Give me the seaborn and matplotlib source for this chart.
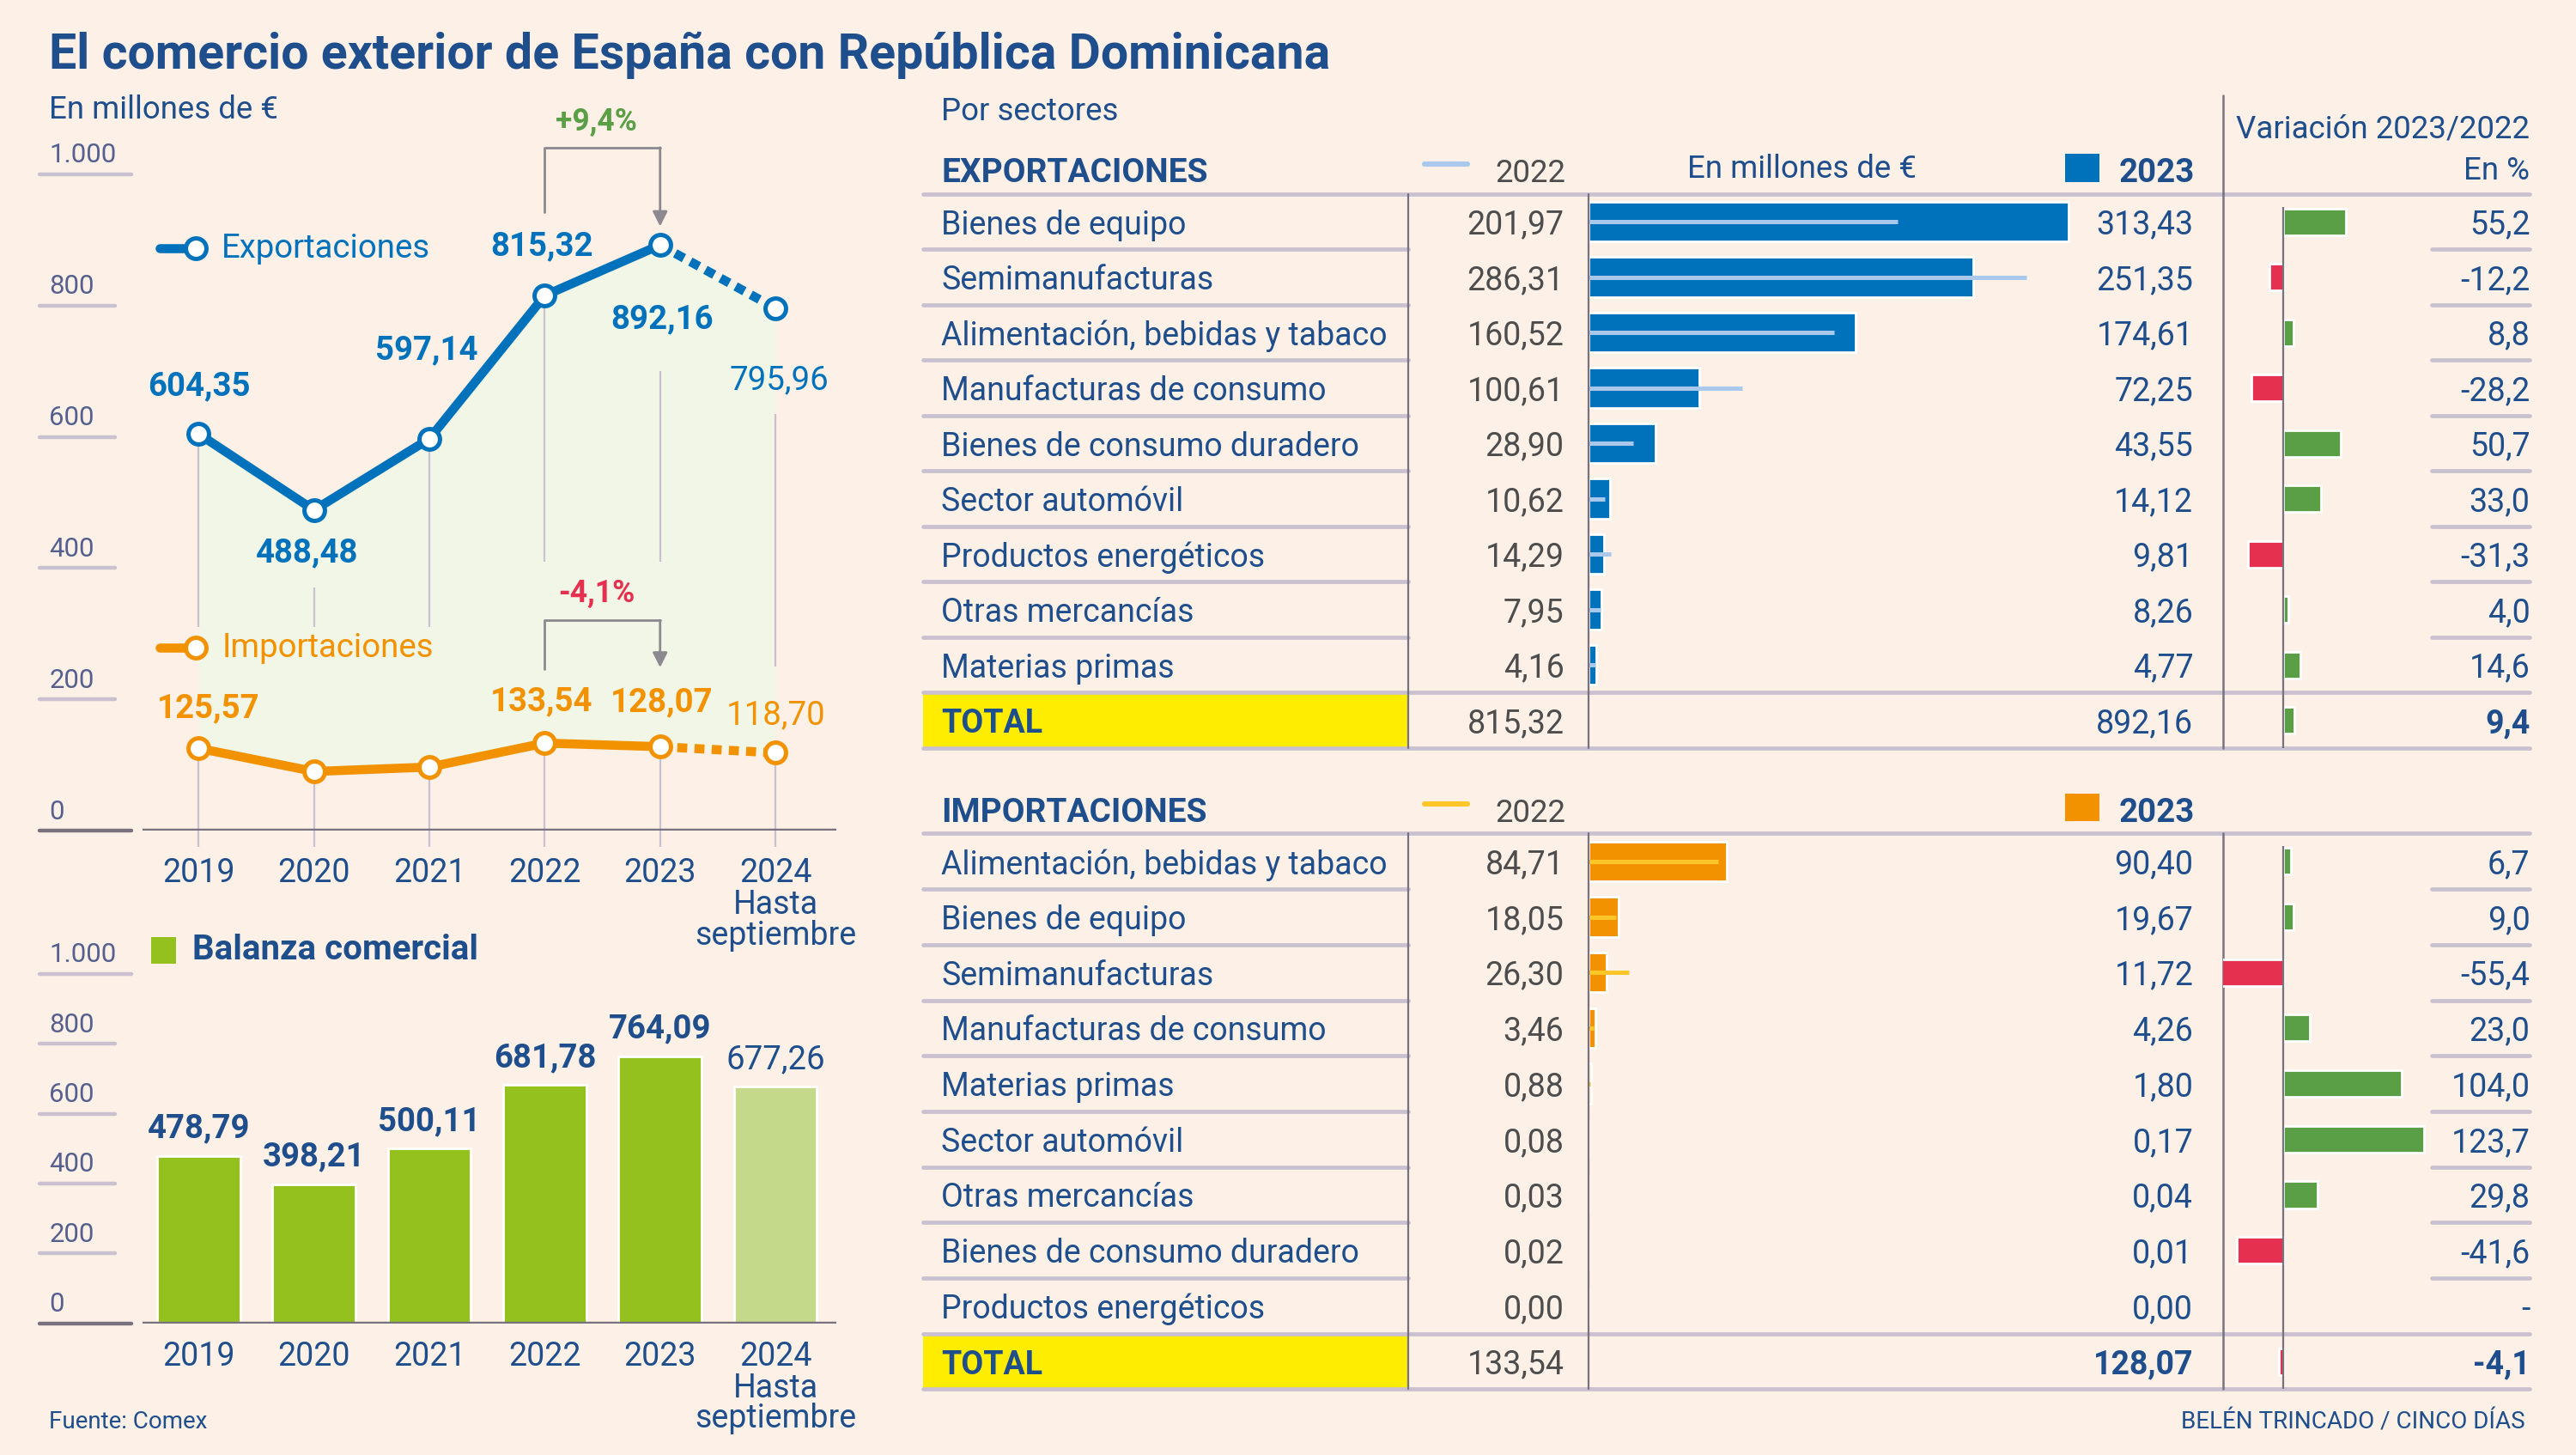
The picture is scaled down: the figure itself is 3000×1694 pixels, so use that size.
import matplotlib
matplotlib.use("Agg")
import numpy as np
import pandas as pd
import matplotlib.pyplot as plt
import seaborn as sns
from matplotlib.patches import Rectangle
from matplotlib.transforms import blended_transform_factory as blend

# ---- data ----
years = ["2019", "2020", "2021", "2022", "2023", "2024"]
exports = [604.35, 488.48, 597.14, 815.32, 892.16, 795.96]
imports = [125.57, 90.27, 97.03, 133.54, 128.07, 118.70]
balance = [478.79, 398.21, 500.11, 681.78, 764.09, 677.26]
ytick_vals = [0, 200, 400, 600, 800, 1000]
ytick_labels = ["0", "200", "400", "600", "800", "1.000"]

exp_sectors = ["Bienes de equipo", "Semimanufacturas", "Alimentación, bebidas y tabaco",
               "Manufacturas de consumo", "Bienes de consumo duradero", "Sector automóvil",
               "Productos energéticos", "Otras mercancías", "Materias primas"]
exp_2022 = [201.97, 286.31, 160.52, 100.61, 28.90, 10.62, 14.29, 7.95, 4.16]
exp_2023 = [313.43, 251.35, 174.61, 72.25, 43.55, 14.12, 9.81, 8.26, 4.77]
exp_var = [55.2, -12.2, 8.8, -28.2, 50.7, 33.0, -31.3, 4.0, 14.6]
exp_total = [815.32, 892.16, 9.4]

imp_sectors = ["Alimentación, bebidas y tabaco", "Bienes de equipo", "Semimanufacturas",
               "Manufacturas de consumo", "Materias primas", "Sector automóvil",
               "Otras mercancías", "Bienes de consumo duradero", "Productos energéticos"]
imp_2022 = [84.71, 18.05, 26.30, 3.46, 0.88, 0.08, 0.03, 0.02, 0.00]
imp_2023 = [90.40, 19.67, 11.72, 4.26, 1.80, 0.17, 0.04, 0.01, 0.00]
imp_var = [6.7, 9.0, -55.4, 23.0, 104.0, 123.7, 29.8, -41.6, np.nan]
imp_total = [133.54, 128.07, -4.1]

# ---- style ----
BG = "#FCF0E7"
NAVY = "#1F4E8C"
BLUE = "#0072BC"
LBLUE = "#A9C8EC"
ORANGE = "#F39200"
YELLOWL = "#FFC629"
GREEN = "#95C11F"
LGREEN = "#C5D98A"
VGREEN = "#5A9E45"
RED = "#E5304F"
FILL = "#F2F6E6"
GRID = "#C9C0D0"
DARK = "#77727E"
GREY = "#4D4D4D"
TICK = "#56608F"
YELLOW = "#FFED00"

sns.set_theme(style="white")
plt.rcParams["font.family"] = ["Roboto", "DejaVu Sans"]

fmt2 = lambda v: f"{v:.2f}".replace(".", ",")
fmt1 = lambda v: "-" if np.isnan(v) else f"{v:.1f}".replace(".", ",")

fig = plt.figure(figsize=(15, 8.47), dpi=200, facecolor=BG)
W, H = 1568, 885
PT = 0.689  # shown px -> points
FS = 13.5


def rect(x0, y0, x1, y1):
    return [x0 / W, 1 - y1 / H, (x1 - x0) / W, (y1 - y0) / H]


bg = fig.add_axes([0, 0, 1, 1], zorder=10)
bg.set_xlim(0, W)
bg.set_ylim(H, 0)
bg.axis("off")

# titles
bg.text(30, 41.8, "El comercio exterior de España con República Dominicana", fontsize=20.6,
        fontweight="bold", color=NAVY, va="baseline")
bg.text(30, 72, "En millones de €", fontsize=13.2, color=NAVY, va="baseline")
bg.text(573, 73, "Por sectores", fontsize=13.2, color=NAVY, va="baseline")
bg.text(30, 869, "Fuente: Comex", fontsize=10, color=NAVY, va="baseline")
bg.text(1537, 869, "BELÉN TRINCADO / CINCO DÍAS", fontsize=10, color=NAVY, va="baseline", ha="right")

xs = np.arange(len(years))
XL = (-0.484, 5.527)

# ---- line chart ----
ax1 = fig.add_axes(rect(87, 106, 509, 505.3))
ax1.fill_between(xs, imports, exports, color=FILL, lw=0, zorder=1)

grid_upper = [(310, None), (310, 370), (310, None), (410, None), (410, 700), (250, 635)]
for i in xs:
    ax1.vlines(i, -24, imports[i], color=GRID, lw=0.8, zorder=2, clip_on=False)
    lo, hi = grid_upper[i]
    ax1.vlines(i, lo, exports[i] if hi is None else hi, color=GRID, lw=0.8, zorder=2)

for vals, col in [(exports, BLUE), (imports, ORANGE)]:
    sns.lineplot(x=xs[:5], y=vals[:5], color=col, lw=3.8, ax=ax1, zorder=3,
                 solid_capstyle="butt")
    sns.lineplot(x=xs[4:], y=vals[4:], color=col, lw=3.8, ax=ax1, zorder=3,
                 linestyle=(0, (1.1, 0.8)), dash_capstyle="butt")
    ax1.plot(xs, vals, "o", ms=8.6, mfc="white", mec=col, mew=1.8, zorder=5, clip_on=False)
ax1.set_xlim(*XL)
ax1.set_ylim(0, 1000)
ax1.axis("off")

exp_off = [(0, 29), (-4, -26), (-2, 54), (-2, 30), (1, -45), (2, -44)]
for i, (dx, dy) in enumerate(exp_off):
    ax1.annotate(fmt2(exports[i]), (i, exports[i]), xytext=(dx * PT, dy * PT),
                 textcoords="offset points", ha="center", va="center", fontsize=13.8,
                 fontweight="normal" if i == 5 else "bold", color=BLUE, zorder=6)
imp_off = {0: (6, 24), 3: (-2, 25), 4: (1, 27), 5: (0, 23)}
for i, (dx, dy) in imp_off.items():
    ax1.annotate(fmt2(imports[i]), (i, imports[i]), xytext=(dx * PT, dy * PT),
                 textcoords="offset points", ha="center", va="center", fontsize=13.8,
                 fontweight="normal" if i == 5 else "bold", color=ORANGE, zorder=6)

# change brackets
tr1 = blend(ax1.transData, bg.transData)
for top, lo_l, tip, txt_y, pct, col in [
        (89.7, 129, 137.7, 74, exports[4] / exports[3] - 1, VGREEN),
        (377.3, 407, 406, 361, imports[4] / imports[3] - 1, RED)]:
    ax1.plot([3, 3, 4], [lo_l, top, top], color="#8C8A90", lw=1.0, transform=tr1,
             clip_on=False, zorder=4)
    ax1.annotate("", xy=(4, tip), xytext=(4, top), xycoords=tr1, textcoords=tr1,
                 arrowprops=dict(arrowstyle="-|>", color="#8C8A90", lw=1.0,
                                 mutation_scale=13, shrinkA=0, shrinkB=0), zorder=4)
    sign = "+" if pct > 0 else "-"
    ax1.text(3.45, txt_y, f"{sign}{abs(pct) * 100:.1f}%".replace(".", ","), transform=tr1,
             ha="center", va="center", fontsize=12.8, fontweight="bold", color=col, zorder=6)

# legends on the line chart
for y, txt, col in [(151, "Exportaciones", BLUE), (394, "Importaciones", ORANGE)]:
    ax1.plot([97, 117], [y, y], color=col, lw=3.8, transform=bg.transData, clip_on=False,
             solid_capstyle="round", zorder=6)
    ax1.plot([119], [y], "o", ms=8.6, mfc="white", mec=col, mew=1.8,
             transform=bg.transData, clip_on=False, zorder=6)
    ax1.text(135, y, txt, transform=bg.transData, fontsize=13.8, color=col, va="center",
             zorder=6)


def y_axis(ax, ylab_x_end):
    trY = blend(bg.transData, ax.transData)
    for v, lab in zip(ytick_vals, ytick_labels):
        ax.annotate(lab, (30, v), xycoords=trY, xytext=(0, 4 * PT), textcoords="offset points",
                    ha="left", va="bottom", fontsize=11.2, color=TICK)
        x1 = 80 if v in (0, 1000) else 70
        ax.plot([24, x1], [v, v], transform=trY, color=DARK if v == 0 else GRID,
                lw=1.6, clip_on=False)
    ax.axhline(0, color=DARK, lw=1.6, zorder=6)
    trX = blend(ax.transData, bg.transData)
    for i, yr in enumerate(years):
        ax.text(i, ylab_x_end, yr, transform=trX, ha="center", va="center",
                fontsize=FS, color=NAVY)
    ax.text(5, ylab_x_end + 19.5, "Hasta", transform=trX, ha="center", va="center",
            fontsize=FS, color=NAVY)
    ax.text(5, ylab_x_end + 38, "septiembre", transform=trX, ha="center", va="center",
            fontsize=FS, color=NAVY)


y_axis(ax1, 531)

# ---- balance bars ----
ax2 = fig.add_axes(rect(87, 592.5, 509, 804.9))
sns.barplot(x=years, y=balance, hue=years, palette=[GREEN] * 5 + [LGREEN], width=0.72,
            saturation=1, legend=False, ax=ax2, zorder=2)
ax2.set_xlim(*XL)
ax2.set_ylim(0, 1000)
ax2.axis("off")
for i, v in enumerate(balance):
    ax2.annotate(fmt2(v), (i, v), xytext=(0, 7 * PT), textcoords="offset points",
                 ha="center", va="bottom", fontsize=13.8,
                 fontweight="normal" if i == 5 else "bold", color=NAVY)
y_axis(ax2, 825)
bg.add_patch(Rectangle((92, 570), 15, 16, color=GREEN, lw=0))
bg.text(117, 578, "Balanza comercial", fontsize=14.5, fontweight="bold", color=NAVY,
        va="center")


# ---- sector tables ----
def table(top, bottom, title, names, v22, v23, var, total, bar_col, line_col, bold23):
    n = len(names)
    order = list(names) + ["TOTAL"]
    axb = fig.add_axes(rect(967, top, 1353, bottom))
    sns.barplot(x=v23, y=names, order=order, color=bar_col, width=0.72, saturation=1,
                ax=axb, zorder=2)
    axb.hlines(np.arange(n), 0, v22, color=line_col, lw=1.8, zorder=3)
    axb.set_xlim(0, (1353 - 967) / 0.9316)
    axb.set_ylim(n + 0.5, -0.5)
    axb.axis("off")

    axv = fig.add_axes(rect(1353, top, 1540, bottom))
    d = pd.DataFrame({"sector": order, "var": list(var) + [total[2]]}).dropna()
    cols = [VGREEN if v >= 0 else RED for v in d["var"]]
    sns.barplot(data=d, x="var", y="sector", hue="sector", order=order,
                hue_order=list(d["sector"]), palette=cols, width=0.48, saturation=1,
                legend=False, ax=axv, zorder=2)
    axv.set_xlim(-37 / 0.69, 150 / 0.69)
    axv.set_ylim(n + 0.5, -0.5)
    axv.axis("off")
    axv.vlines(0, -0.27, n + 0.5, color=DARK, lw=0.8, zorder=3)

    tr = blend(bg.transData, axb.transData)
    axb.add_patch(Rectangle((562, n - 0.5), 295, 1, transform=tr, color=YELLOW, lw=0,
                            clip_on=False, zorder=0))
    kw = dict(transform=tr, va="center_baseline", fontsize=FS)
    for i in range(n):
        axb.text(573, i, names[i], color=NAVY, **kw)
        axb.text(952, i, fmt2(v22[i]), ha="right", color=GREY, **kw)
        axb.text(1335, i, fmt2(v23[i]), ha="right", color=NAVY, **kw)
        axb.text(1540, i, fmt1(var[i]), ha="right", color=NAVY, **kw)
    axb.text(573, n, "TOTAL", fontweight="bold", color=NAVY, **kw)
    axb.text(952, n, fmt2(total[0]), ha="right", color=GREY, **kw)
    axb.text(1335, n, fmt2(total[1]), ha="right", color=NAVY,
             fontweight="bold" if bold23 else "normal", **kw)
    axb.text(1540, n, fmt1(total[2]), ha="right", color=NAVY, fontweight="bold", **kw)

    for i in range(n - 1):
        axb.plot([562, 857], [i + 0.5, i + 0.5], transform=tr, color=GRID, lw=1.7,
                 clip_on=False)
        axb.plot([1480, 1540], [i + 0.5, i + 0.5], transform=tr, color=GRID, lw=1.7,
                 clip_on=False)
    for y in (-0.5, n - 0.5, n + 0.5):
        axb.plot([562, 1540], [y, y], transform=tr, color=GRID, lw=1.7, clip_on=False,
                 zorder=1)
    for x in (857, 967):
        axb.plot([x, x], [-0.5, n + 0.5], transform=tr, color=DARK, lw=0.8, clip_on=False,
                 zorder=4)
    axb.plot([1353, 1353], [-0.5, n + 0.5], transform=tr, color=DARK, lw=0.9,
             clip_on=False, zorder=4)

    # header
    base = top - 7
    bg.text(573, base, title, fontsize=14, fontweight="bold", color=NAVY, va="baseline")
    bg.plot([867, 893], [base - 11, base - 11], color=line_col, lw=2.2)
    bg.text(910, base, "2022", fontsize=13.2, color=GREY, va="baseline")
    bg.add_patch(Rectangle((1257, base - 17.5), 21, 17, color=bar_col, lw=0))
    bg.text(1290, base, "2023", fontsize=13.8, fontweight="bold", color=NAVY, va="baseline")


table(118, 455, "EXPORTACIONES", exp_sectors, exp_2022, exp_2023, exp_var, exp_total,
      BLUE, LBLUE, False)
table(507, 845, "IMPORTACIONES", imp_sectors, imp_2022, imp_2023, imp_var, imp_total,
      ORANGE, YELLOWL, True)

bg.text(1097, 108, "En millones de €", fontsize=13.2, color=NAVY, va="baseline", ha="center")
bg.text(1540, 84, "Variación 2023/2022", fontsize=13.2, color=NAVY, va="baseline", ha="right")
bg.text(1540, 109, "En %", fontsize=13.2, color=NAVY, va="baseline", ha="right")
bg.plot([1353, 1353], [58, 118], color=DARK, lw=0.9)

fig.savefig("out.png", dpi=200, facecolor=BG)
